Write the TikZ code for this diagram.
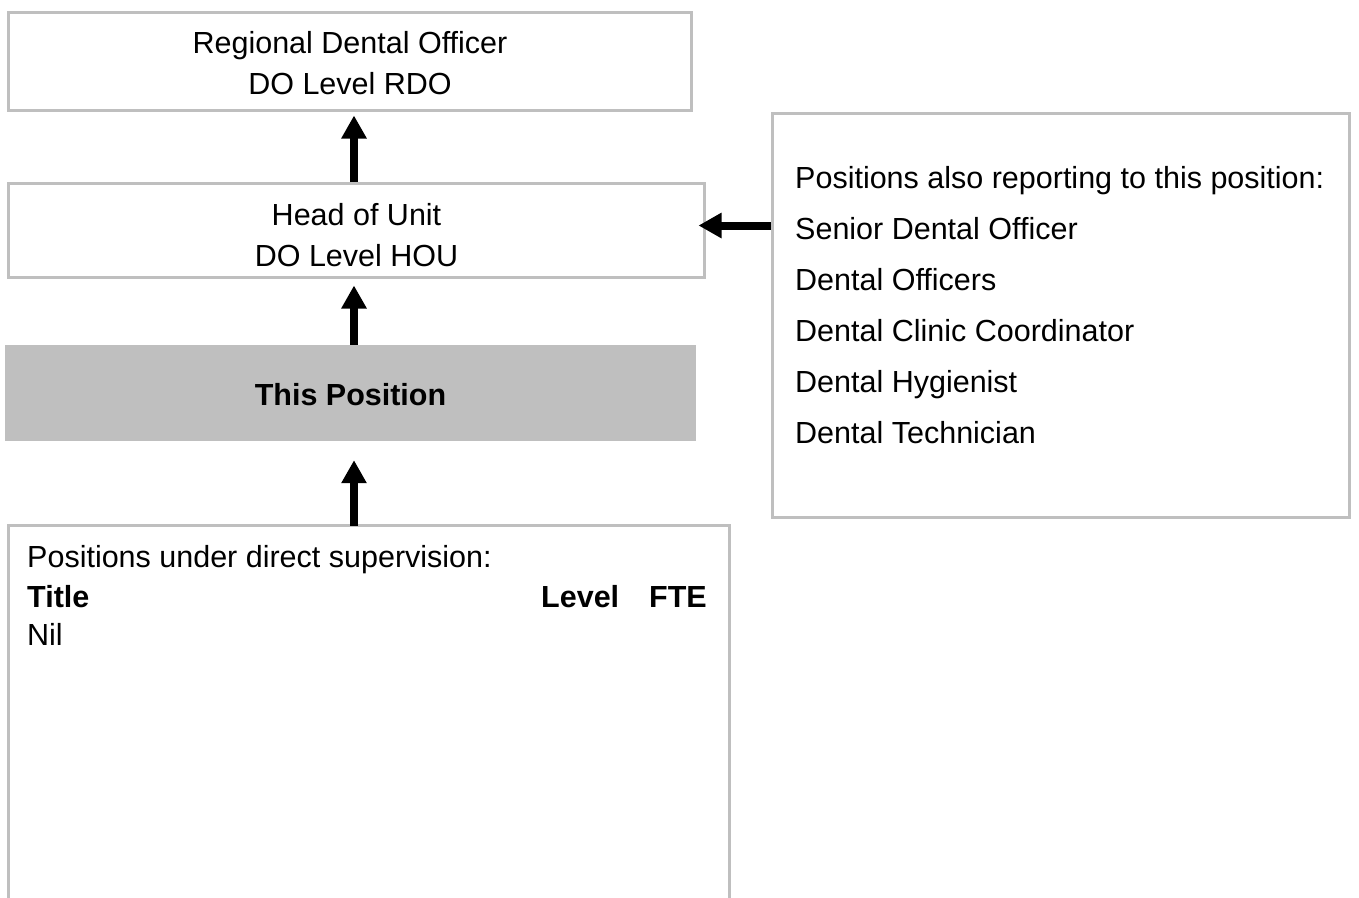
\documentclass[tikz,border=0pt]{standalone}
\usepackage{fontspec}
\setmainfont{Liberation Sans}
\usetikzlibrary{arrows.meta}
\definecolor{boxgray}{RGB}{191,191,191}
\tikzset{every node/.style={inner sep=0pt, font=\fontsize{30.5}{41}\selectfont},
  box/.style={draw=boxgray, line width=3pt},
  boxline/.style={draw=boxgray, line width=3pt},
  thisbox/.style={fill=boxgray},
  txt/.style={anchor=base},
  feed/.style={line width=8pt, -{Triangle[width=24pt,length=23pt]}}}

\begin{document}
\begin{tikzpicture}[x=1pt,y=-1pt]
  \useasboundingbox (0,0) rectangle (1359,897);
  % boxes
  \node[box, minimum width=683pt, minimum height=98pt] (rdo) at (350,61) {};
  \node[box, minimum width=696pt, minimum height=94pt] (hou) at (356.5,230.5) {};
  \node[thisbox, minimum width=691pt, minimum height=96pt] (this) at (350.5,393) {};
  \node[box, minimum width=577pt, minimum height=404pt] (rep) at (1061,315.5) {};
  \node[minimum width=721pt, minimum height=384pt] (sub) at (369,718) {};
  \draw[boxline] (sub.south west) -- (sub.north west) -- (sub.north east) -- (sub.south east);
  % texts
  \node[txt] (rdo-1) at (350,53) {Regional Dental Officer};
  \node[txt] (rdo-2) at (350,94) {DO Level RDO};
  \node[txt] (hou-1) at (356.5,225) {Head of Unit};
  \node[txt] (hou-2) at (356.5,266) {DO Level HOU};
  \node[txt, font=\fontsize{30.5}{41}\selectfont\bfseries] (this-1) at (350.5,405) {This Position};
  \foreach \t [count=\i] in {Positions also reporting to this position:, Senior Dental Officer,
      Dental Officers, Dental Clinic Coordinator, Dental Hygienist, Dental Technician}
    \node[txt, anchor=base west] (rep-\i) at (795,137+51*\i) {\t};
  \node[txt, anchor=base west] (sub-1) at (27,567) {Positions under direct supervision:};
  \node[txt, anchor=base west, font=\fontsize{30.5}{41}\selectfont\bfseries] (sub-2) at (27,607) {Title};
  \node[txt, anchor=base west, font=\fontsize{30.5}{41}\selectfont\bfseries] (sub-3) at (541,607) {Level};
  \node[txt, anchor=base east, font=\fontsize{30.5}{41}\selectfont\bfseries] (sub-4) at (707,607) {FTE};
  \node[txt, anchor=base west] (sub-5) at (27,645) {Nil};
  % arrows
  \coordinate (spine) at (354,0);
  \coordinate (side) at (0,225.5);
  \draw[feed, shorten >=4pt] (hou.north -| spine) -- (rdo.south -| spine);
  \draw[feed, shorten >=6.5pt] (this.north -| spine) -- (hou.south -| spine);
  \draw[feed, shorten >=19pt] (sub.north -| spine) -- (this.south -| spine);
  \draw[feed, shorten >=-7.5pt] (rep.west |- side) -- (hou.east |- side);
\end{tikzpicture}
\end{document}
